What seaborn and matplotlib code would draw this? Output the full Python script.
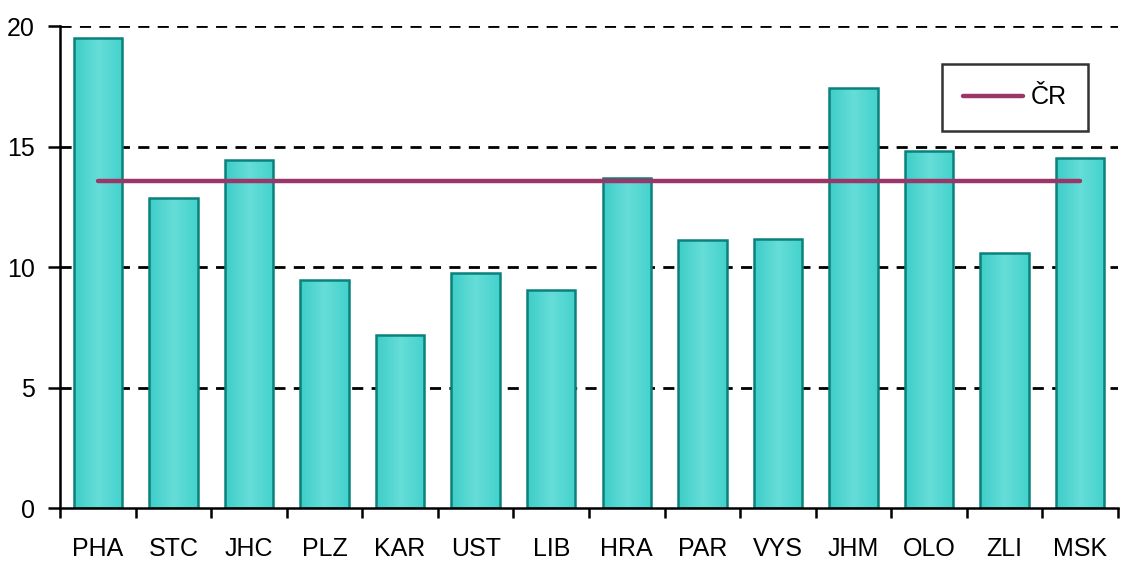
import numpy as np
import pandas as pd
import matplotlib
matplotlib.use("Agg")
import matplotlib.pyplot as plt
import seaborn as sns
from matplotlib.colors import LinearSegmentedColormap

# Regions and values
regions = ["PHA", "STC", "JHC", "PLZ", "KAR", "UST", "LIB", "HRA",
           "PAR", "VYS", "JHM", "OLO", "ZLI", "MSK"]
values = [19.5, 12.86, 14.44, 9.46, 7.18, 9.75, 9.05, 13.69,
          11.12, 11.16, 17.43, 14.81, 10.58, 14.52]
cr_value = 13.57
cr_label = "ČR"
y_ticks = [0, 5, 10, 15, 20]

sns.set_theme(style="white")
plt.rcParams["font.family"] = ["Liberation Sans", "DejaVu Sans"]
plt.rcParams["text.color"] = "black"
plt.rcParams["xtick.color"] = "black"
plt.rcParams["ytick.color"] = "black"

df = pd.DataFrame({"region": regions, "value": values})

fig = plt.figure(figsize=(11.21, 5.66), dpi=100)
ax = fig.add_axes([60 / 1121, 58 / 566, 1058 / 1121, 482 / 566])

sns.barplot(data=df, x="region", y="value", ax=ax, width=0.64,
            color="#4fd6d2", edgecolor="#0b817c", linewidth=1.8, zorder=3)

# horizontal gradient inside each bar
cmap = LinearSegmentedColormap.from_list(
    "bar", ["#3ecdc8", "#66ddd8", "#44d2cd"])
grad = np.linspace(0, 1, 64).reshape(1, -1)
for p in ax.patches:
    x0, y0 = p.get_x(), p.get_y()
    w, h = p.get_width(), p.get_height()
    im = ax.imshow(grad, cmap=cmap, aspect="auto", zorder=3.5,
                   extent=[x0, x0 + w, y0, y0 + h], interpolation="bicubic")
    im.set_clip_path(p)
    p.set_facecolor("none")
    p.set_zorder(4)

# national average line
ax.plot([0, len(regions) - 1], [cr_value, cr_value], color="#9b3768",
        lw=3.2, solid_capstyle="round", zorder=5, label=cr_label)

ax.set_xlim(-0.5, len(regions) - 0.5)
ax.set_ylim(0, 20)
ax.set_yticks(y_ticks)
for yv in y_ticks[1:]:
    ax.axhline(yv, color="black", lw=2.0, ls=(0, (4, 3)), zorder=1)

ax.set_xlabel("")
ax.set_ylabel("")
for s in ["top", "right"]:
    ax.spines[s].set_visible(False)
for s in ["left", "bottom"]:
    ax.spines[s].set_color("black")
    ax.spines[s].set_linewidth(1.8)
    ax.spines[s].set_zorder(6)

ax.tick_params(axis="y", direction="out", length=9, width=1.8,
               labelsize=18, pad=9, left=True, color="black",
               labelcolor="black")
ax.set_xticks(range(len(regions)))
ax.set_xticklabels(regions)
ax.set_xticks(np.arange(-0.5, len(regions)), minor=True)
ax.tick_params(axis="x", which="major", length=0, labelsize=18, pad=21,
               labelcolor="black")
ax.tick_params(axis="x", which="minor", direction="out", length=7,
               width=1.8, bottom=True, color="black")

leg = ax.legend(loc="upper right", bbox_to_anchor=(1028 / 1058, 1 - 38 / 482),
                fontsize=18, frameon=True, fancybox=False, handlelength=2.4,
                handletextpad=0.3, borderpad=0.85, borderaxespad=0)
leg.get_frame().set_edgecolor("black")
leg.get_frame().set_linewidth(1.8)
for t in leg.get_texts():
    t.set_color("black")

fig.savefig("out.png", dpi=100)
